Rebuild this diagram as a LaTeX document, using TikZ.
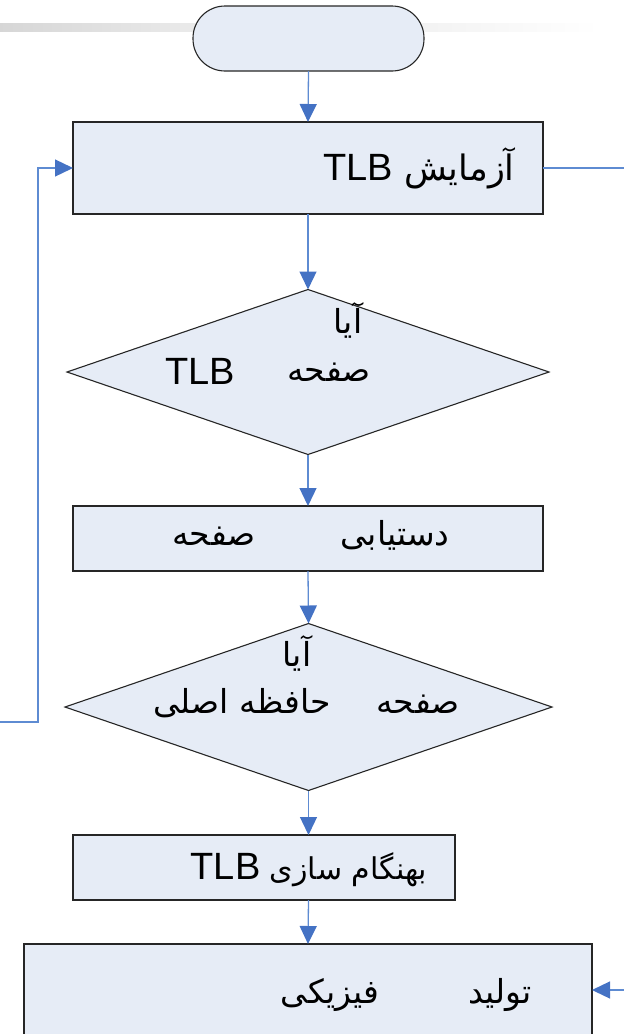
\documentclass[tikz,border=0pt]{standalone}
\usepackage{fontspec}
\setmainfont{Liberation Sans}
\newfontfamily\fafont[Script=Arabic]{DejaVu Sans}
\TeXXeTstate=1
\usetikzlibrary{arrows.meta,shapes.geometric}

\definecolor{boxfill}{HTML}{E6ECF6}
\definecolor{flowline}{HTML}{5E8BD2}
\definecolor{tipblue}{HTML}{4472C4}

\tikzset{
  x=1pt, y=-1pt,
  shapebase/.style={draw=black!85, line width=1.1pt, fill=boxfill, inner sep=0pt, outer sep=0pt},
  procbox/.style={shapebase, rectangle},
  decision/.style={shapebase, diamond},
  terminal/.style={shapebase, rectangle, rounded corners=32pt},
  flow/.style={draw=flowline, line width=1.3pt,
    -{Triangle[length=18pt,width=17pt,fill=tipblue,color=tipblue]}},
  plain/.style={draw=flowline, line width=1.3pt},
  fa/.style={anchor=base, inner sep=0pt, text=black, font=\fontsize{33}{40}\fafont},
  la/.style={anchor=base, inner sep=0pt, text=black, font=\fontsize{38}{44}\selectfont},
}
\newcommand{\tlbword}{{\rmfamily\fontsize{38}{44}\selectfont TLB}}

\begin{document}
\begin{tikzpicture}
\useasboundingbox (0,0) rectangle (624,1034);
\begin{scope}
\clip (0,0) rectangle (624,1034);

% header rule behind the start terminal
\shade[left color=black!16, right color=black!8] (0,23) rectangle (200,31);
\shade[left color=black!5, right color=white] (420,23) rectangle (600,31);

% flowchart shapes
\node[terminal, minimum width=231pt, minimum height=65pt] (start) at (308.5,38.5) {};
\node[procbox, minimum width=470pt, minimum height=92pt] (test) at (308,168) {};
\node[decision, minimum width=482pt, minimum height=165pt] (inTLB) at (308,372) {};
\node[procbox, minimum width=470pt, minimum height=65pt] (access) at (308,538.5) {};
\node[decision, minimum width=487pt, minimum height=167pt] (inMem) at (308.5,707) {};
\node[procbox, minimum width=382pt, minimum height=65pt] (update) at (264,867.5) {};
\node[procbox, minimum width=568pt, minimum height=120pt] (gen) at (308,1004) {};

% labels
\node[fa, font=\fontsize{35}{42}\fafont] (l1) at (419,180) {\beginR آزمایش \beginL\tlbword\endL\endR};
\node[fa] (l2a) at (348,333) {\beginR آیا\endR};
\node[fa] (l2b) at (329,381) {\beginR صفحه\endR};
\node[la] (l2c) at (200,384) {TLB};
\node[fa] (l3a) at (214,545) {\beginR صفحه\endR};
\node[fa] (l3b) at (395,545) {\beginR دستیابی\endR};
\node[fa] (l4a) at (297,666) {\beginR آیا\endR};
\node[fa] (l4b) at (418,713) {\beginR صفحه\endR};
\node[fa] (l4c) at (242,713) {\beginR حافظه اصلی\endR};
\node[fa, font=\fontsize{30}{36}\fafont] (l5) at (309,879) {\beginR بهنگام سازی \beginL\tlbword\endL\endR};
\node[fa] (l6a) at (500,1003) {\beginR تولید\endR};
\node[fa] (l6b) at (330,1003) {\beginR فیزیکی\endR};

% connectors
\coordinate (rightout) at (624,168);
\coordinate (rightin) at (624,990);
\coordinate (leftin) at (0,722);
\coordinate (loopcorner) at (38,722);

\draw[flow] (start.south) -- (test.north);
\draw[flow] (test.south) -- (inTLB.north);
\draw[flow] (inTLB.south) -- (access.north);
\draw[flow] (access.south) -- (inMem.north);
\draw[flow] (inMem.south) -- (inMem.south |- update.north);
\draw[flow] (update.south -| inMem.south) -- (gen.north);
\draw[plain] (test.east) -- (rightout);
\draw[flow] (rightin) -- (gen.east |- rightin);
\draw[flow] (leftin) -- (loopcorner) |- (test.west);
\end{scope}
\end{tikzpicture}
\end{document}
